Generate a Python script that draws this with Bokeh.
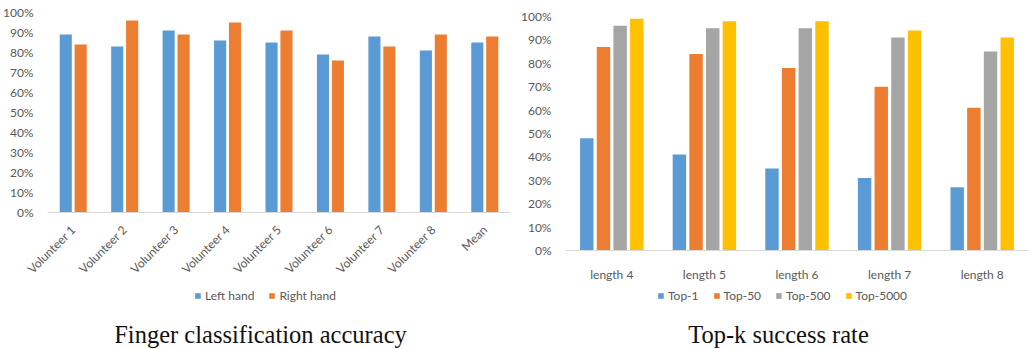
import math
from bokeh.plotting import figure
from bokeh.models import (Range1d, FactorRange, Legend, LegendItem, Label,
                          PrintfTickFormatter, FixedTicker, ColumnDataSource)
from bokeh.transform import dodge
from bokeh.core.templates import get_env
from bokeh.embed import file_html
from bokeh.resources import INLINE

# Finger classification accuracy (%)
volunteers = ["Volunteer 1", "Volunteer 2", "Volunteer 3", "Volunteer 4",
              "Volunteer 5", "Volunteer 6", "Volunteer 7", "Volunteer 8", "Mean"]
left_hand = [89, 83, 91, 86, 85, 79, 88, 81, 85]
right_hand = [84, 96, 89, 95, 91, 76, 83, 89, 88]

# Top-k success rate (%)
lengths = ["length 4", "length 5", "length 6", "length 7", "length 8"]
top_1 = [48, 41, 35, 31, 27]
top_50 = [87, 84, 78, 70, 61]
top_500 = [96, 95, 95, 91, 85]
top_5000 = [99, 98, 98, 94, 91]

percent_ticks = list(range(0, 101, 10))

BLUE, ORANGE, GRAY, GOLD = "#5B9BD5", "#ED7D31", "#A5A5A5", "#FFC000"
TXT = "#595959"
FONT = "Lato"

CHART_H = 288      # bar chart panels
FOOT_W, FOOT_H = 300, 61   # legend + caption panels

# each root is pinned at its own (left, top) on the page
PAGE = get_env().from_string("""
{% extends "file.html" %}
{% from macros import embed %}
{% block contents %}
<div style="position:relative;width:1030px;height:349px;overflow:hidden">
{% for doc in docs %}{% for root in doc.roots %}
<div style="position:absolute;left:{{ boxes[loop.index0][0] }}px;top:{{ boxes[loop.index0][1] }}px">{{ embed(root) }}</div>
{% endfor %}{% endfor %}
</div>
{% endblock %}
""")


def chart(cats, width, left, right, top):
    frame_h = {12: 200, 16: 234}[top]
    p = figure(x_range=FactorRange(*cats), y_range=Range1d(0, 100),
               width=width, height=CHART_H,
               output_backend="svg", toolbar_location=None,
               min_border_left=left, min_border_right=right,
               min_border_top=top, min_border_bottom=CHART_H - top - frame_h)
    p.title.visible = False
    p.outline_line_color = None
    p.xgrid.visible = False
    p.ygrid.visible = False
    p.yaxis.ticker = FixedTicker(ticks=percent_ticks)
    p.yaxis.formatter = PrintfTickFormatter(format="%d%%")
    p.yaxis.axis_line_color = None
    p.yaxis.major_tick_line_color = None
    p.yaxis.minor_tick_line_color = None
    p.yaxis.major_label_standoff = 8
    p.xaxis.axis_line_color = "#D9D9D9"
    p.xaxis.major_tick_line_color = None
    p.xaxis.minor_tick_line_color = None
    for ax in (p.xaxis, p.yaxis):
        ax.major_label_text_font = FONT
        ax.major_label_text_font_size = "12px"
        ax.major_label_text_color = TXT
    return p


def footer(labels, colors, caption, caption_x):
    f = figure(width=FOOT_W, height=FOOT_H, x_range=Range1d(0, FOOT_W),
               y_range=Range1d(0, FOOT_H), x_axis_type=None, y_axis_type=None,
               output_backend="svg", toolbar_location=None, min_border=0)
    f.title.visible = False
    f.outline_line_color = None
    items = []
    for lab, col in zip(labels, colors):
        # zero-height key placed left of the view; only its legend swatch shows
        key = ColumnDataSource(dict(x=[-50], top=[0]))
        r = f.vbar(x="x", top="top", width=1, source=key,
                   color=col, line_color=None)
        items.append(LegendItem(label=lab, renderers=[r]))
    f.add_layout(Legend(items=items, orientation="horizontal",
                        location="top_center", glyph_width=7, glyph_height=7,
                        label_standoff=4, spacing=14, border_line_color=None,
                        background_fill_alpha=0, label_text_font=FONT,
                        label_text_font_size="12px", label_text_color=TXT,
                        padding=2, margin=0, label_height=14))
    f.add_layout(Label(text=caption, x=caption_x, y=15, text_align="center",
                       text_baseline="middle", text_font="Liberation Serif",
                       text_font_size="24.5px", text_color="#111111"))
    return f


# Left chart
src1 = ColumnDataSource(dict(cat=volunteers, left=left_hand, right=right_hand))
p1 = chart(volunteers, 515, 47, 5, 12)
p1.vbar(x=dodge("cat", -0.145, range=p1.x_range), top="left", width=0.235,
        source=src1, color=BLUE, line_color=None)
p1.vbar(x=dodge("cat", 0.145, range=p1.x_range), top="right", width=0.235,
        source=src1, color=ORANGE, line_color=None)
p1.xaxis.major_label_orientation = math.pi / 4
p1.xaxis.major_label_standoff = 9

# Right chart
src2 = ColumnDataSource(dict(cat=lengths, t1=top_1, t50=top_50,
                             t500=top_500, t5000=top_5000))
p2 = chart(lengths, 515, 50, 2, 16)
for off, key, col in [(-0.27, "t1", BLUE), (-0.09, "t50", ORANGE),
                      (0.09, "t500", GRAY), (0.27, "t5000", GOLD)]:
    p2.vbar(x=dodge("cat", off, range=p2.x_range), top=key,
            width=0.145, source=src2, color=col, line_color=None)
p2.xaxis.major_label_standoff = 10

f1 = footer(["Left hand", "Right hand"], [BLUE, ORANGE],
            "Finger classification accuracy", 145)
f2 = footer(["Top-1", "Top-50", "Top-500", "Top-5000"],
            [BLUE, ORANGE, GRAY, GOLD], "Top-k success rate", 146)

boxes = [(0, 0), (515, 0), (115, CHART_H), (632, CHART_H)]
open("out.html", "w").write(file_html((p1, p2, f1, f2), INLINE, template=PAGE,
                                      template_variables={"boxes": boxes}))
